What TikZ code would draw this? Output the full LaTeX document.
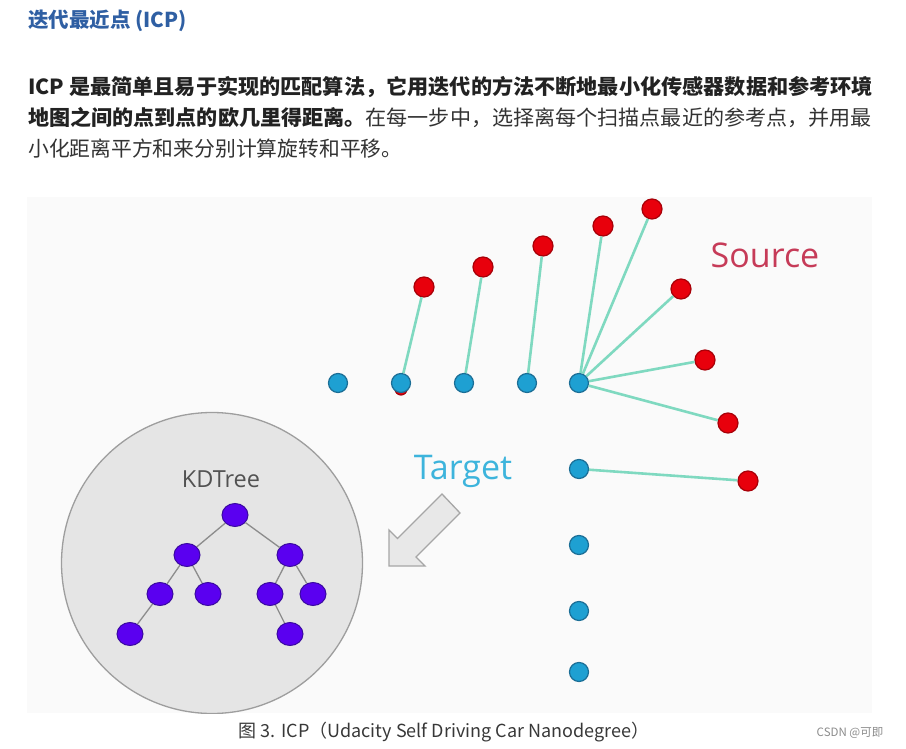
\documentclass[tikz,border=0pt]{standalone}
\usepackage{fontspec}
\setmainfont{Liberation Sans}
\newfontfamily\cjk{Noto Sans CJK SC}
\newfontfamily\opensans{Open Sans}
\usetikzlibrary{shapes.geometric}
\definecolor{headblue}{HTML}{2F5FA3}
\definecolor{txtdark}{HTML}{222222}
\definecolor{txtnorm}{HTML}{333333}
\definecolor{linkgreen}{HTML}{7FD9C0}
\definecolor{tblue}{HTML}{1EA0D2}
\definecolor{tblueline}{HTML}{1B6E96}
\definecolor{sred}{HTML}{E8000C}
\definecolor{sredline}{HTML}{A80008}
\definecolor{srctxt}{HTML}{C63B58}
\definecolor{tgttxt}{HTML}{3DB4DC}
\definecolor{kdpurple}{HTML}{5A00F0}
\definecolor{kdline}{HTML}{3A0AA0}
\tikzset{
  bdot/.style={circle,fill=tblue,draw=tblueline,line width=1.2pt,minimum size=19pt,inner sep=0pt},
  rdot/.style={circle,fill=sred,draw=sredline,line width=1.2pt,minimum size=20pt,inner sep=0pt},
  kdnode/.style={ellipse,fill=kdpurple,draw=kdline,line width=1pt,minimum width=26pt,minimum height=23pt,inner sep=0pt},
  link/.style={linkgreen,line width=2.6pt},
  kdedge/.style={draw=black!45,line width=1.3pt},
  para/.style={anchor=west,inner sep=0pt,font=\cjk\fontsize{20.8}{24}\selectfont},
}
\begin{document}
\begin{tikzpicture}[x=1pt,y=-1pt]
\useasboundingbox (0,0) rectangle (906,749);
\fill[white] (0,0) rectangle (906,749);
% texts
\node[para,text=headblue,font=\cjk\bfseries\fontsize{20.5}{24}\selectfont] (head) at (28,21) {迭代最近点 (ICP)};
\node[para,text=txtdark] (l1) at (28,87) {\scalebox{1.017}[1]{\bfseries ICP 是最简单且易于实现的匹配算法，它用迭代的方法不断地最小化传感器数据和参考环境}};
\node[para,text=txtnorm] (l2) at (28,118) {\scalebox{1.014}[1]{{\bfseries\color{txtdark}地图之间的点到点的欧几里得距离。}在每一步中，选择离每个扫描点最近的参考点，并用最}};
\node[para,text=txtnorm] (l3) at (28,149) {小化距离平方和来分别计算旋转和平移。};
% image background
\fill[black!2] (27,197) rectangle (872,713);
% KD tree circle
\begin{scope}
\clip (27,197) rectangle (872,713);
\node[circle,fill=black!10,draw=black!38,line width=1.3pt,minimum size=301pt,inner sep=0pt] (kdc) at (212,563) {};
\end{scope}
\node[text=black!68,font=\opensans\fontsize{23.5}{26}\selectfont] (kdt) at (221,479) {KDTree};
\node[kdnode] (r) at (235,515) {};
\node[kdnode] (a) at (187,555) {};
\node[kdnode] (b) at (290,555) {};
\node[kdnode] (aa) at (160,594) {};
\node[kdnode] (ab) at (208,594) {};
\node[kdnode] (ba) at (270,594) {};
\node[kdnode] (bb) at (313,594) {};
\node[kdnode] (aaa) at (130,634) {};
\node[kdnode] (bab) at (290,634) {};
\draw[kdedge] (r) -- (a) (r) -- (b) (a) -- (aa) (a) -- (ab) (b) -- (ba) (b) -- (bb) (aa) -- (aaa) (ba) -- (bab);
% arrow
\draw[fill=black!9,draw=black!35,line width=1.3pt,line join=miter] (442,494) -- (397.5,538.5) -- (389,530) -- (389,566) -- (425,566) -- (416,557) -- (460,513) -- cycle;
% labels
\node[text=srctxt,font=\opensans\fontsize{34}{36}\selectfont] (src) at (765,255) {Source};
\node[text=tgttxt,font=\opensans\fontsize{34}{36}\selectfont] (tgt) at (463,471) {Target};
% target points
\node[rdot,minimum size=12pt] (s0) at (401,389) {};
\node[bdot] (t1) at (338,383) {};
\node[bdot] (t2) at (401,383) {};
\node[bdot] (t3) at (464,383) {};
\node[bdot] (t4) at (527,383) {};
\node[bdot] (t5) at (579,383) {};
\node[bdot] (t6) at (579,469) {};
\node[bdot] (t7) at (579,545) {};
\node[bdot] (t8) at (579,611) {};
\node[bdot] (t9) at (579,672) {};
% source points
\node[rdot] (s1) at (424,287) {};
\node[rdot] (s2) at (483,267) {};
\node[rdot] (s3) at (543,246) {};
\node[rdot] (s4) at (603,226) {};
\node[rdot] (s5) at (652,209) {};
\node[rdot] (s6) at (681,289) {};
\node[rdot] (s7) at (705,360) {};
\node[rdot] (s8) at (728,423) {};
\node[rdot] (s9) at (748,481) {};
% links
\draw[link] (t2) -- (s1);
\draw[link] (t3) -- (s2);
\draw[link] (t4) -- (s3);
\draw[link] (t5) -- (s4);
\draw[link] (t5) -- (s5);
\draw[link] (t5) -- (s6);
\draw[link] (t5) -- (s7);
\draw[link] (t5) -- (s8);
\draw[link] (t6) -- (s9);
% caption
\node[text=black!78,font=\cjk\fontsize{18}{20}\selectfont] (cap) at (444,732) {图 3. ICP（Udacity Self Driving Car Nanodegree）};
\node[text=black!45,font=\cjk\fontsize{11.5}{13}\selectfont] (csdn) at (850,733) {CSDN @可即};
\end{tikzpicture}
\end{document}
